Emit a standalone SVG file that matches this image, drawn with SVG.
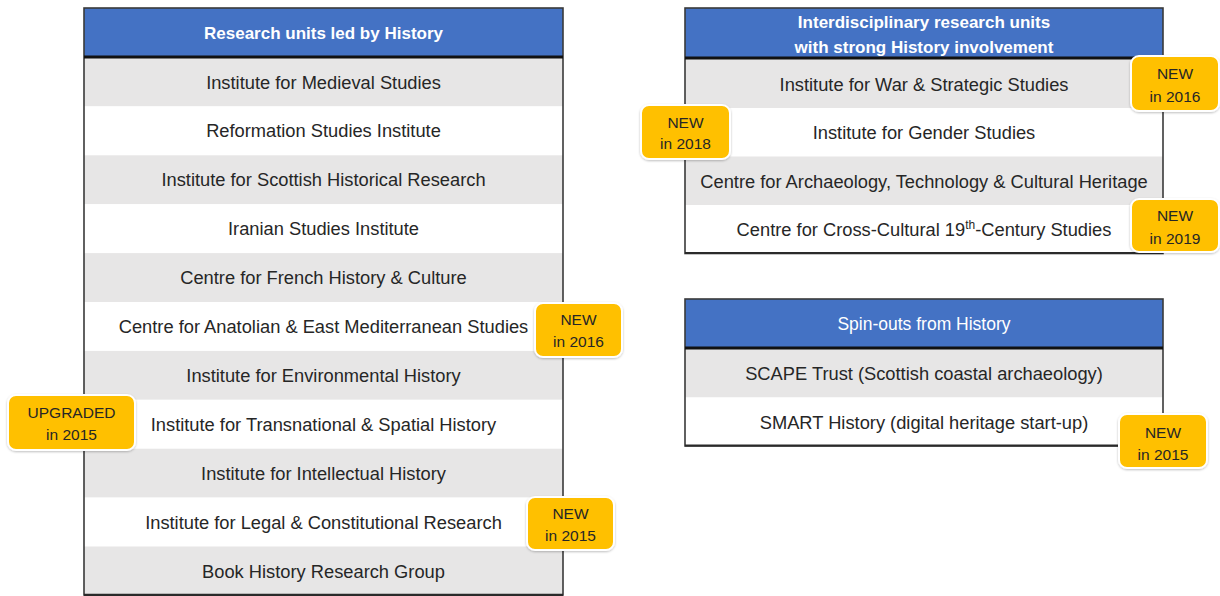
<svg xmlns="http://www.w3.org/2000/svg" width="1220" height="596" viewBox="0 0 1220 596">
<style>
.bg{fill:#ffffff}
.hdr{fill:#4472C4}
.g{fill:#E7E6E6}
.w{fill:#ffffff}
.frame{fill:none;stroke:#3a3a3a;stroke-width:1.6}
.sep{stroke:#111111;stroke-width:3}
.bot{stroke:#2a2a2a;stroke-width:2.2}
.ht{font-family:"Liberation Sans",Arial,sans-serif;font-size:17px;font-weight:bold;fill:#ffffff;text-anchor:middle}
.htr{font-family:"Liberation Sans",Arial,sans-serif;font-size:17.5px;fill:#ffffff;text-anchor:middle}
.rt{font-family:"Liberation Sans",Arial,sans-serif;font-size:18.3px;fill:#262626;text-anchor:middle}
.badge rect{fill:#FFC000;stroke:#ffffff;stroke-width:2;filter:url(#sh)}
.bt{font-family:"Liberation Sans",Arial,sans-serif;font-size:15.5px;fill:#262626;text-anchor:middle}
</style>
<defs>
<filter id="sh" x="-20%" y="-20%" width="140%" height="140%">
<feDropShadow dx="0" dy="1" stdDeviation="1.2" flood-color="#000000" flood-opacity="0.25"/>
</filter>
</defs>
<rect class="bg" x="0" y="0" width="1220" height="596"/>

<g id="table-led-by-history">
  <g id="hdr-led"><rect class="hdr" x="84" y="8" width="479" height="49.5"/><text class="ht" x="323.5" y="39">Research units led by History</text></g>
  <g id="row-medieval"><rect class="g" x="84" y="57.5" width="479" height="48.9"/><text class="rt" x="323.5" y="88.5">Institute for Medieval Studies</text></g>
  <g id="row-reformation"><rect class="w" x="84" y="106.4" width="479" height="48.9"/><text class="rt" x="323.5" y="137.4">Reformation Studies Institute</text></g>
  <g id="row-scottish"><rect class="g" x="84" y="155.3" width="479" height="48.9"/><text class="rt" x="323.5" y="186.3">Institute for Scottish Historical Research</text></g>
  <g id="row-iranian"><rect class="w" x="84" y="204.2" width="479" height="48.9"/><text class="rt" x="323.5" y="235.2">Iranian Studies Institute</text></g>
  <g id="row-french"><rect class="g" x="84" y="253.1" width="479" height="48.9"/><text class="rt" x="323.5" y="284.1">Centre for French History &amp; Culture</text></g>
  <g id="row-anatolian"><rect class="w" x="84" y="302" width="479" height="48.9"/><text class="rt" x="323.5" y="333">Centre for Anatolian &amp; East Mediterranean Studies</text></g>
  <g id="row-environmental"><rect class="g" x="84" y="350.9" width="479" height="48.9"/><text class="rt" x="323.5" y="381.9">Institute for Environmental History</text></g>
  <g id="row-transnational"><rect class="w" x="84" y="399.8" width="479" height="48.9"/><text class="rt" x="323.5" y="430.8">Institute for Transnational &amp; Spatial History</text></g>
  <g id="row-intellectual"><rect class="g" x="84" y="448.7" width="479" height="48.9"/><text class="rt" x="323.5" y="479.7">Institute for Intellectual History</text></g>
  <g id="row-legal"><rect class="w" x="84" y="497.6" width="479" height="48.9"/><text class="rt" x="323.5" y="528.6">Institute for Legal &amp; Constitutional Research</text></g>
  <g id="row-book"><rect class="g" x="84" y="546.5" width="479" height="48.5"/><text class="rt" x="323.5" y="577.5">Book History Research Group</text></g>
  <rect class="frame" x="84" y="8" width="479" height="587"/>
  <line class="sep" x1="84" y1="57" x2="563" y2="57"/>
  <line class="bot" x1="84" y1="594.8" x2="563" y2="594.8"/>
</g>

<g id="table-interdisciplinary">
  <g id="hdr-inter"><rect class="hdr" x="685" y="8" width="478" height="50"/>
    <text class="ht" x="924" y="28">Interdisciplinary research units</text>
    <text class="ht" x="924" y="53">with strong History involvement</text></g>
  <g id="row-war"><rect class="g" x="685" y="59" width="478" height="49"/><text class="rt" x="924" y="90.5">Institute for War &amp; Strategic Studies</text></g>
  <g id="row-gender"><rect class="w" x="685" y="108" width="478" height="48.5"/><text class="rt" x="924" y="138.5">Institute for Gender Studies</text></g>
  <g id="row-archaeology"><rect class="g" x="685" y="156.5" width="478" height="48.5"/><text class="rt" x="924" y="187.5">Centre for Archaeology, Technology &amp; Cultural Heritage</text></g>
  <g id="row-crosscultural"><rect class="w" x="685" y="205" width="478" height="48.5"/><text class="rt" x="924" y="235.5">Centre for Cross-Cultural 19<tspan font-size="12" dy="-7">th</tspan><tspan dy="7">-Century Studies</tspan></text></g>
  <rect class="frame" x="685" y="8" width="478" height="245.5"/>
  <line class="sep" x1="685" y1="58" x2="1163" y2="58"/>
  <line class="bot" x1="685" y1="253" x2="1163" y2="253"/>
</g>

<g id="table-spinouts">
  <g id="hdr-spin"><rect class="hdr" x="685" y="299" width="478" height="49"/><text class="htr" x="924" y="330">Spin-outs from History</text></g>
  <g id="row-scape"><rect class="g" x="685" y="349" width="478" height="48.5"/><text class="rt" x="924" y="379.5">SCAPE Trust (Scottish coastal archaeology)</text></g>
  <g id="row-smart"><rect class="w" x="685" y="397.5" width="478" height="48.5"/><text class="rt" x="924" y="428.5">SMART History (digital heritage start-up)</text></g>
  <rect class="frame" x="685" y="299" width="478" height="147"/>
  <line class="sep" x1="685" y1="348" x2="1163" y2="348"/>
  <line class="bot" x1="685" y1="445.5" x2="1163" y2="445.5"/>
</g>

<g id="badge-anatolian" class="badge"><rect x="535" y="303" width="87" height="54" rx="8"/><text class="bt" x="578.5" y="324.5">NEW</text><text class="bt" x="578.5" y="346.5">in 2016</text></g>
<g id="badge-transnational" class="badge"><rect x="8" y="395" width="127" height="55" rx="8"/><text class="bt" x="71.5" y="417.5">UPGRADED</text><text class="bt" x="71.5" y="439.5">in 2015</text></g>
<g id="badge-legal" class="badge"><rect x="527" y="497" width="87" height="53" rx="8"/><text class="bt" x="570.5" y="518.5">NEW</text><text class="bt" x="570.5" y="540.5">in 2015</text></g>
<g id="badge-war" class="badge"><rect x="1131" y="56" width="88" height="55" rx="8"/><text class="bt" x="1175" y="78.5">NEW</text><text class="bt" x="1175" y="101.5">in 2016</text></g>
<g id="badge-gender" class="badge"><rect x="641" y="105" width="89" height="54" rx="8"/><text class="bt" x="685.5" y="127.5">NEW</text><text class="bt" x="685.5" y="148.5">in 2018</text></g>
<g id="badge-crosscultural" class="badge"><rect x="1131" y="199" width="88" height="53" rx="8"/><text class="bt" x="1175" y="220.5">NEW</text><text class="bt" x="1175" y="243.5">in 2019</text></g>
<g id="badge-smart" class="badge"><rect x="1119" y="414" width="88" height="54" rx="8"/><text class="bt" x="1163" y="437.5">NEW</text><text class="bt" x="1163" y="459.5">in 2015</text></g>
</svg>
